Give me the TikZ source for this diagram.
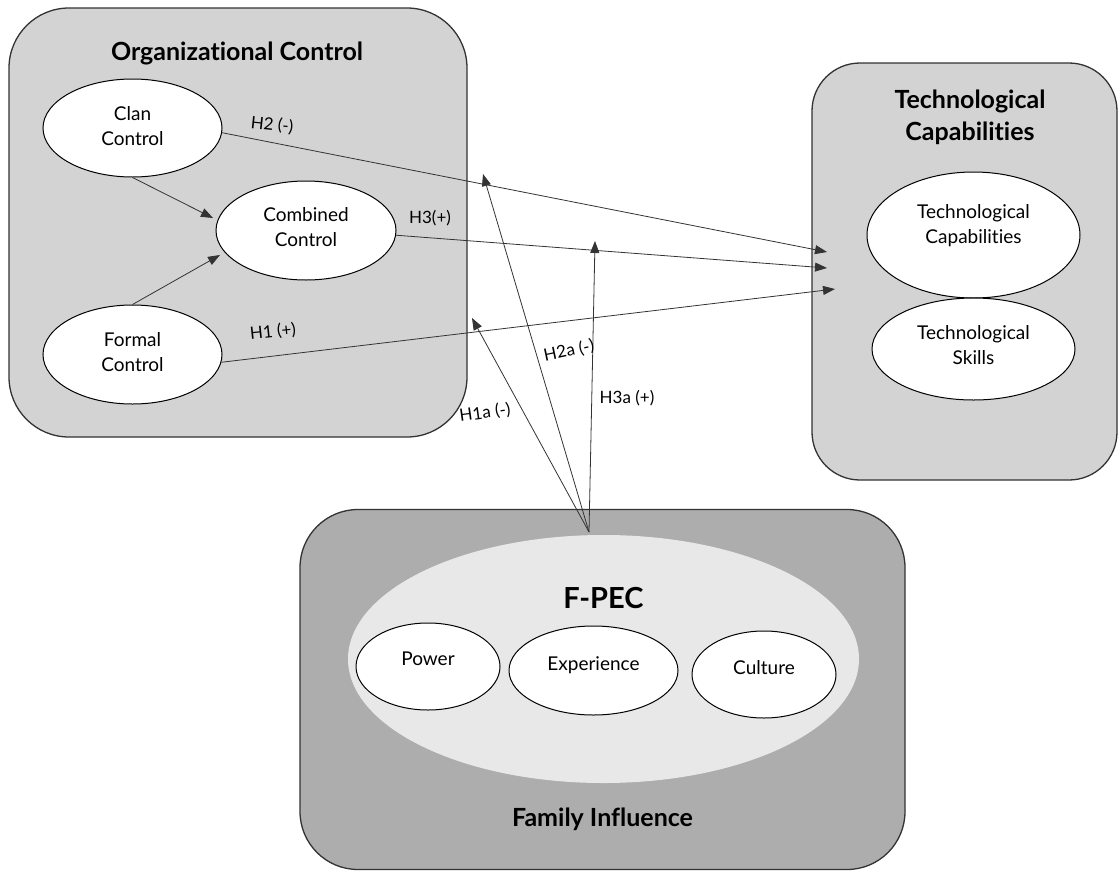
\documentclass[tikz,border=0pt]{standalone}
\usepackage{fontspec}
\setmainfont{Lato}[Ligatures={NoCommon}]
\usetikzlibrary{arrows.meta,shapes.geometric}
\definecolor{boxlight}{HTML}{D3D3D3}
\definecolor{boxdark}{HTML}{ADADAD}
\definecolor{fpecfill}{HTML}{E8E8E8}
\definecolor{edgecol}{HTML}{333333}
\begin{document}
\begin{tikzpicture}[x=1pt,y=-1pt,
  panel/.style={draw=edgecol, line width=1.3pt, rectangle, inner sep=0pt},
  oval/.style={ellipse, draw=black, line width=1pt, fill=white, inner sep=0pt},
  txt/.style={font=\fontsize{19}{25}\selectfont, align=center},
  ttl/.style={font=\fontsize{25}{32}\selectfont\bfseries, align=center},
  hyp/.style={font=\fontsize{17}{19}\selectfont, inner sep=1pt},
  arr/.style={draw=black!80, line width=0.8pt, -{Triangle[length=12pt,width=9pt]}},
]
\useasboundingbox (0,0) rectangle (1120,871);

% panels
\node[panel, fill=boxlight, rounded corners=60pt, minimum width=458pt, minimum height=429pt] (org) at (238,222.5) {};
\node[panel, fill=boxlight, rounded corners=48pt, minimum width=305pt, minimum height=417pt] (tech) at (964.5,271.5) {};
\node[panel, fill=boxdark, rounded corners=58pt, minimum width=605pt, minimum height=360pt] (fam) at (602.5,689.5) {};

% titles
\node[ttl, anchor=base] (orgT) at (237,60) {Organizational Control};
\node[ttl] (techT) at (970,117) {Technological\\Capabilities};
\node[ttl, anchor=base] (famT) at (602.5,826) {Family Influence};

% organizational control ellipses
\node[oval, minimum width=179pt, minimum height=98pt, label={[txt, yshift=2pt]center:Clan\\Control}] (clan) at (132.5,128) {};
\node[oval, minimum width=180pt, minimum height=99pt, label={[txt, yshift=3pt]center:Combined\\Control}] (comb) at (306,230.5) {};
\node[oval, minimum width=179pt, minimum height=99pt, label={[txt, yshift=2pt]center:Formal\\Control}] (formal) at (132.5,354.5) {};

% technological ellipses
\node[oval, minimum width=213pt, minimum height=126pt, label={[txt, yshift=9pt]center:Technological\\Capabilities}] (techcap) at (973.5,235) {};
\node[oval, minimum width=203pt, minimum height=102pt, label={[txt, yshift=3.5pt]center:Technological\\Skills}] (techsk) at (973.5,349) {};

% F-PEC
\node[ellipse, fill=fpecfill, draw=none, minimum width=511pt, minimum height=248pt, inner sep=0pt] (fpec) at (603.5,659) {};
\node[font=\fontsize{29}{32}\selectfont\bfseries, anchor=base] (fpecT) at (603.5,608) {F-PEC};
\node[oval, minimum width=144pt, minimum height=87pt, label={[txt, yshift=7.5pt]center:Power}] (power) at (428,666.5) {};
\node[oval, minimum width=169pt, minimum height=89pt, label={[txt, yshift=5.5pt]center:Experience}] (exper) at (593.5,670.5) {};
\node[oval, minimum width=144pt, minimum height=87pt, label={[txt, yshift=6.5pt]center:Culture}] (cult) at (764,674.5) {};

% arrow end points
\coordinate (t2) at (827,252);
\coordinate (t3) at (827,268);
\coordinate (t1) at (835,289);
\coordinate (tcc) at (213,218);
\coordinate (tfc) at (220,255);
\coordinate (src) at (589,532);
\coordinate (t1a) at (472,318);
\coordinate (t2a) at (483,174);
\coordinate (t3a) at (595,241);

% connectors
\draw[arr] (clan.south) -- (tcc);
\draw[arr] (formal.north) -- (tfc);
\draw[arr] (clan.-3) -- (t2);
\draw[arr] (comb.-3) -- (t3);
\draw[arr] (formal.-5) -- (t1);
\draw[arr] (src) -- (t1a);
\draw[arr] (src) -- (t2a);
\draw[arr] (src) -- (t3a);

% hypothesis labels
\node[hyp, rotate=-6] (h2) at (272,125) {H2 (-)};
\node[hyp] (h3) at (430,218) {H3(+)};
\node[hyp, rotate=6] (h1) at (273,332) {H1 (+)};
\node[hyp, rotate=8] (h1a) at (485,413) {H1a (-)};
\node[hyp, rotate=12] (h2a) at (569,351) {H2a (-)};
\node[hyp] (h3a) at (627,398) {H3a (+)};
\end{tikzpicture}
\end{document}
